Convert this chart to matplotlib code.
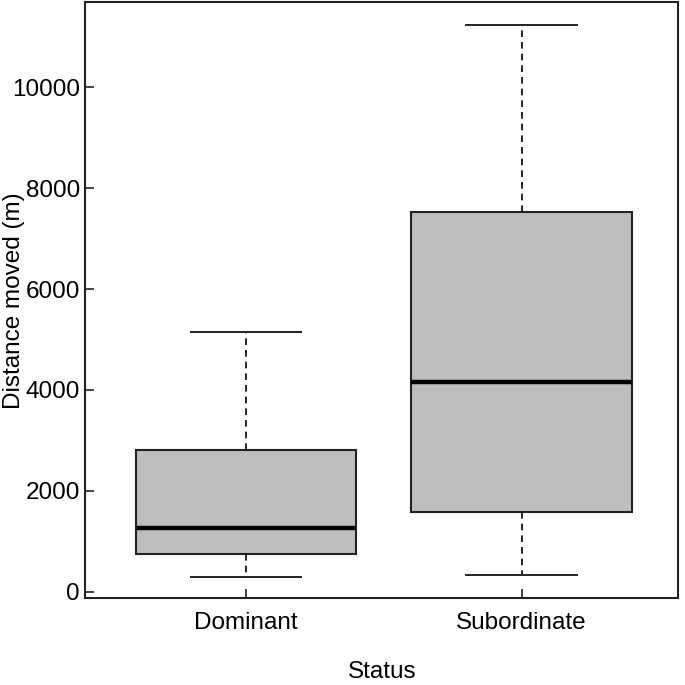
import matplotlib
matplotlib.use("Agg")
import matplotlib.pyplot as plt

plt.rcParams["font.family"] = ["Liberation Sans", "DejaVu Sans"]

groups = ["Dominant", "Subordinate"]
whisker_low = [297, 325]
q1 = [753, 1586]
median = [1269, 4158]
q3 = [2809, 7529]
whisker_high = [5148, 11236]
y_ticks = [0, 2000, 4000, 6000, 8000, 10000]

stats = []
for i, name in enumerate(groups):
    stats.append({
        "label": name,
        "whislo": whisker_low[i],
        "q1": q1[i],
        "med": median[i],
        "q3": q3[i],
        "whishi": whisker_high[i],
        "fliers": [],
    })

fig = plt.figure(figsize=(6.85, 6.85), dpi=100)
ax = fig.add_axes([0.1248, 0.127, 0.865, 0.8694])

ax.bxp(
    stats,
    positions=[1, 2],
    widths=0.8,
    patch_artist=True,
    boxprops=dict(facecolor="#bebebe", edgecolor="#222222", linewidth=1.5),
    medianprops=dict(color="black", linewidth=3.2, solid_capstyle="butt"),
    whiskerprops=dict(color="black", linewidth=1.2, linestyle=(0, (4, 3))),
    capprops=dict(color="#222222", linewidth=1.4),
    capwidths=0.4,
    showfliers=False,
)

ax.set_xlim(0.417, 2.568)
ax.set_ylim(-125, 11681)
ax.set_yticks(y_ticks)
ax.set_yticklabels([str(v) for v in y_ticks])
ax.set_xticks([1, 2])
ax.set_xticklabels(groups)

for s in ax.spines.values():
    s.set_linewidth(1.5)
    s.set_color("#222222")

ax.tick_params(axis="both", direction="in", length=6.5, width=1.2, labelsize=17.5, colors="#222222")
ax.tick_params(axis="y", pad=4)
ax.tick_params(axis="x", pad=10)
for lab in ax.get_xticklabels() + ax.get_yticklabels():
    lab.set_color("black")

ax.set_xlabel("Status", fontsize=17.5, va="center")
ax.set_ylabel("Distance moved (m)", fontsize=17.5, va="center")
ax.xaxis.set_label_coords(0.5, -0.124)
ax.yaxis.set_label_coords(-0.121, 0.5)

fig.savefig("out.png", dpi=100)
